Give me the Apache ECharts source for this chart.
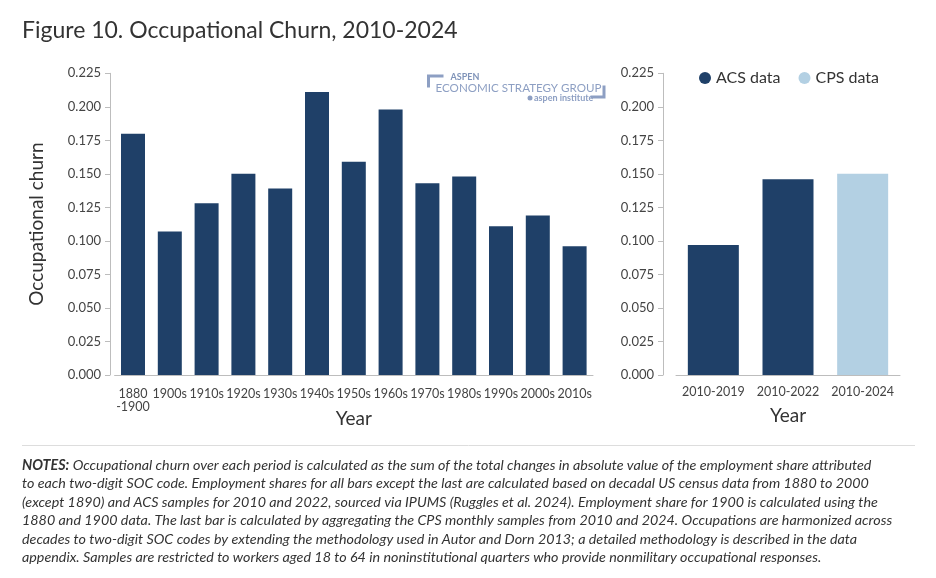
<!DOCTYPE html>
<html lang="en">
<head>
    <meta charset="UTF-8">
    <title>Occupational Churn</title>
    <script src="https://cdn.jsdelivr.net/npm/echarts@6/dist/echarts.min.js"></script>
    <style>
        html, body { margin: 0; padding: 0; background: #fff; }
        #main { width: 936px; height: 578px; }
    </style>
</head>
<body>
<div id="main"></div>
<script type="text/javascript">
    // values
    var decadeLabels = ['1880\n-1900', '1900s', '1910s', '1920s', '1930s', '1940s', '1950s',
        '1960s', '1970s', '1980s', '1990s', '2000s', '2010s'];
    var decadeChurn = [0.180, 0.107, 0.128, 0.150, 0.139, 0.211, 0.159, 0.198, 0.143, 0.148, 0.111, 0.119, 0.096];
    var periodLabels = ['2010-2019', '2010-2022', '2010-2024'];
    var acsPeriod = [0.097, 0.146, '-'];
    var cpsPeriod = ['-', '-', 0.150];

    var navy = '#1f4068';
    var lightBlue = '#b3d0e3';
    var axisGrey = '#bdbdbd';
    var font = 'Lato';

    var noteLines = [
        '{b|NOTES:} Occupational churn over each period is calculated as the sum of the total changes in absolute value of the employment share attributed',
        'to each two-digit SOC code. Employment shares for all bars except the last are calculated based on decadal US census data from 1880 to 2000',
        '(except 1890) and ACS samples for 2010 and 2022, sourced via IPUMS (Ruggles et al. 2024). Employment share for 1900 is calculated using the',
        '1880 and 1900 data. The last bar is calculated by aggregating the CPS monthly samples from 2010 and 2024. Occupations are harmonized across',
        'decades to two-digit SOC codes by extending the methodology used in Autor and Dorn 2013; a detailed methodology is described in the data',
        'appendix. Samples are restricted to workers aged 18 to 64 in noninstitutional quarters who provide nonmilitary occupational responses.'
    ];

    function yAxisFor(gridIndex, offset, withName) {
        return {
            type: 'value',
            gridIndex: gridIndex,
            min: 0,
            max: 0.225,
            interval: 0.025,
            offset: offset,
            name: withName ? 'Occupational churn' : '',
            nameLocation: 'middle',
            nameGap: 64,
            nameTextStyle: { fontFamily: font, fontSize: 19, color: '#333' },
            axisLine: { show: true, lineStyle: { color: axisGrey } },
            axisTick: { show: true, length: 5, lineStyle: { color: axisGrey } },
            splitLine: { show: false },
            axisLabel: {
                fontFamily: font, fontSize: 13, color: '#444', margin: 9,
                formatter: function (v) { return v.toFixed(3); }
            }
        };
    }

    var myChart = echarts.init(document.getElementById('main'));
    var option = {
        animation: false,
        title: {
            text: 'Figure 10. Occupational Churn, 2010-2024',
            left: 22,
            top: 19,
            padding: 0,
            textStyle: { fontFamily: font, fontSize: 23, fontWeight: 'normal', color: '#333' }
        },
        legend: {
            data: ['ACS data', 'CPS data'],
            left: 694,
            top: 65,
            icon: 'circle',
            itemWidth: 12,
            itemHeight: 12,
            itemGap: 18,
            textStyle: { fontFamily: font, fontSize: 16, color: '#333' }
        },
        grid: [
            { left: 114.6, top: 73.3, width: 478.4, height: 301.7 },
            { left: 676, top: 73.3, width: 224, height: 301.7 }
        ],
        xAxis: [
            {
                type: 'category', gridIndex: 0, data: decadeLabels,
                name: 'Year', nameLocation: 'middle', nameGap: 34, nameMoveOverlap: false,
                nameTextStyle: { fontFamily: font, fontSize: 19, color: '#333' },
                axisLine: { lineStyle: { color: axisGrey } },
                axisTick: { alignWithLabel: true, length: 5, lineStyle: { color: axisGrey } },
                axisLabel: { fontFamily: font, fontSize: 12.5, color: '#444', margin: 12, lineHeight: 13, interval: 0 }
            },
            {
                type: 'category', gridIndex: 1, data: periodLabels,
                name: 'Year', nameLocation: 'middle', nameGap: 31, nameMoveOverlap: false,
                nameTextStyle: { fontFamily: font, fontSize: 19, color: '#333' },
                axisLine: { lineStyle: { color: axisGrey } },
                axisTick: { show: false },
                axisLabel: { fontFamily: font, fontSize: 12.5, color: '#444', margin: 10, interval: 0 }
            }
        ],
        yAxis: [yAxisFor(0, 4.6, true), yAxisFor(1, 13, false)],
        series: [
            {
                name: 'ACS data', type: 'bar', xAxisIndex: 0, yAxisIndex: 0,
                data: decadeChurn, barWidth: 24, itemStyle: { color: navy }
            },
            {
                name: 'ACS data', type: 'bar', xAxisIndex: 1, yAxisIndex: 1, stack: 'period',
                data: acsPeriod, barWidth: 51, itemStyle: { color: navy }
            },
            {
                name: 'CPS data', type: 'bar', xAxisIndex: 1, yAxisIndex: 1, stack: 'period',
                data: cpsPeriod, barWidth: 51, itemStyle: { color: lightBlue }
            }
        ],
        graphic: [
            // Aspen Economic Strategy Group mark
            {
                type: 'group', left: 426, top: 73,
                children: [
                    { type: 'polyline', shape: { points: [[2, 13], [2, 1.5], [17, 1.5]] },
                        style: { stroke: '#8d9fc3', lineWidth: 3, fill: null } },
                    { type: 'text', x: 24, y: 3, style: { text: 'ASPEN', fontFamily: font, fontSize: 9,
                            fontWeight: 'bold', fill: '#7f93b8', verticalAlign: 'middle' } },
                    { type: 'text', x: 9, y: 13.5, style: { text: 'ECONOMIC STRATEGY GROUP', fontFamily: font,
                            fontSize: 11.6, fill: '#8d9fc3', verticalAlign: 'middle' } },
                    { type: 'circle', shape: { cx: 103.5, cy: 23.5, r: 2.5 }, style: { fill: '#8d9fc3' } },
                    { type: 'text', x: 107.5, y: 23.5, style: { text: 'aspen institute', fontFamily: font,
                            fontSize: 9, fontWeight: 'bold', fill: '#8d9fc3', verticalAlign: 'middle' } },
                    { type: 'polyline', shape: { points: [[164, 22.5], [177.5, 22.5], [177.5, 11]] },
                        style: { stroke: '#8d9fc3', lineWidth: 3, fill: null } }
                ]
            },
            {
                type: 'line', shape: { x1: 22, y1: 445.5, x2: 915, y2: 445.5 },
                style: { stroke: '#dddddd', lineWidth: 1 }
            },
            {
                type: 'text', x: 22, y: 456,
                style: {
                    text: noteLines.join('\n'),
                    fontFamily: font, fontSize: 14.3, fontStyle: 'italic', lineHeight: 18.5,
                    fill: '#333',
                    rich: { b: { fontFamily: font, fontSize: 14.3, fontStyle: 'italic', fontWeight: 'bold', fill: '#333', lineHeight: 18.5 } }
                }
            }
        ]
    };
    myChart.setOption(option);
</script>
</body>
</html>
